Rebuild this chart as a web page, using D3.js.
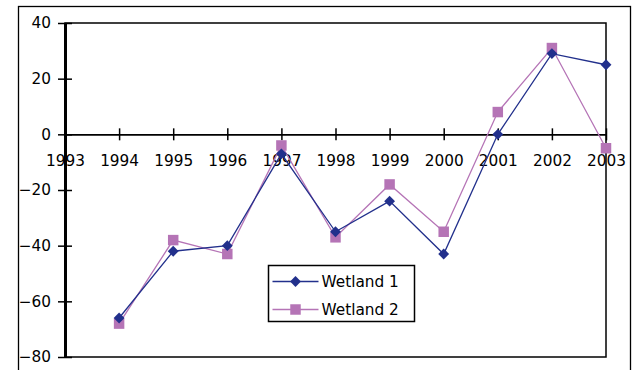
<!DOCTYPE html>
<html>
<head>
<meta charset="utf-8">
<script src="https://cdn.jsdelivr.net/npm/d3@7"></script>
<style>
  body { margin: 0; background: #fff; }
  svg { display: block; }
  svg text { font-family: "DejaVu Sans", sans-serif; fill: #000; }
</style>
</head>
<body>
<div id="chart"></div>
<script>
// values
const years = [1993, 1994, 1995, 1996, 1997, 1998, 1999, 2000, 2001, 2002, 2003];
const dataYears = [1994, 1995, 1996, 1997, 1998, 1999, 2000, 2001, 2002, 2003];
const wetland1 = [-66, -42, -40, -7, -35, -24, -43, 0, 29, 25];
const wetland2 = [-68, -38, -43, -4, -37, -18, -35, 8, 31, -5];
const yTicks = [40, 20, 0, -20, -40, -60, -80];

const width = 634, height = 370;
const margin = {top: 23, right: 28, bottom: 13, left: 65};
const fontSize = "15.3px";

const svg = d3.select("#chart").append("svg")
  .attr("width", width).attr("height", height);

// outer frame
svg.append("rect")
  .attr("x", 18.5).attr("y", 6.5)
  .attr("width", 612).attr("height", 380)
  .attr("fill", "none").attr("stroke", "#000").attr("stroke-width", 1.3);

const x = d3.scaleLinear().domain([1993, 2003]).range([margin.left, width - margin.right]);
const y = d3.scaleLinear().domain([-80, 40]).range([height - margin.bottom, margin.top]);

// plot border
svg.append("rect")
  .attr("x", x(1993)).attr("y", y(40))
  .attr("width", x(2003) - x(1993)).attr("height", y(-80) - y(40))
  .attr("fill", "none").attr("stroke", "#000").attr("stroke-width", 1.5);

// y axis
const yAxis = d3.axisLeft(y).tickValues(yTicks).tickSize(7).tickSizeOuter(0).tickPadding(8);
const gy = svg.append("g").attr("transform", `translate(${x(1993)},0)`).call(yAxis);
gy.attr("font-family", null);
gy.select(".domain").attr("stroke-width", 3);
gy.selectAll(".tick line").attr("x2", 7).attr("x1", -7).attr("stroke-width", 1.5);
gy.selectAll(".tick text").attr("x", -14).style("font-size", fontSize);

// x axis at zero
const xAxis = d3.axisBottom(x).tickValues(years).tickFormat(d3.format("d")).tickSize(5).tickSizeOuter(0).tickPadding(16);
const gx = svg.append("g").attr("transform", `translate(0,${y(0)})`).call(xAxis);
gx.attr("font-family", null);
gx.select(".domain").attr("stroke-width", 1.6);
gx.selectAll(".tick line").attr("y1", -6).attr("y2", 6).attr("stroke-width", 1.5);
gx.selectAll(".tick text").style("font-size", fontSize);

const series = [
  {name: "Wetland 1", values: wetland1, color: "#22308c", shape: d3.symbolDiamond2, size: 75},
  {name: "Wetland 2", values: wetland2, color: "#b574b6", shape: d3.symbolSquare, size: 110}
];

const line = d3.line().x((d, i) => x(dataYears[i])).y(d => y(d));

// lines first, markers on top
series.slice().reverse().forEach(s => {
  svg.append("path")
    .attr("d", line(s.values))
    .attr("fill", "none").attr("stroke", s.color).attr("stroke-width", 1.3);
});
series.slice().reverse().forEach(s => {
  svg.append("g").selectAll("path")
    .data(s.values)
    .join("path")
      .attr("transform", (d, i) => `translate(${x(dataYears[i])},${y(d)})`)
      .attr("d", d3.symbol(s.shape, s.size))
      .attr("fill", s.color);
});

// legend
const lg = svg.append("g").attr("transform", "translate(268.5,265.5)");
lg.append("rect").attr("width", 146).attr("height", 56)
  .attr("fill", "#fff").attr("stroke", "#000").attr("stroke-width", 1.5);
series.forEach((s, i) => {
  const ry = 16 + i * 28;
  lg.append("line").attr("x1", 4).attr("x2", 50).attr("y1", ry).attr("y2", ry)
    .attr("stroke", s.color).attr("stroke-width", 1.3);
  lg.append("path").attr("transform", `translate(27,${ry})`)
    .attr("d", d3.symbol(s.shape, s.size)).attr("fill", s.color);
  lg.append("text").attr("x", 53).attr("y", ry).attr("dy", "0.36em")
    .style("font-size", fontSize).text(s.name);
});
</script>
</body>
</html>
